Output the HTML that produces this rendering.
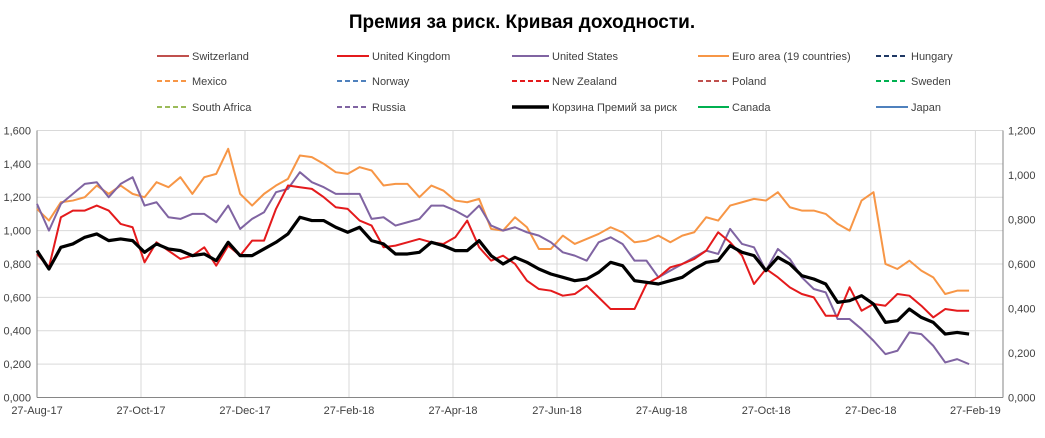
<!DOCTYPE html>
<html><head><meta charset="utf-8">
<style>
body{margin:0;background:#fff;}
svg text{font-family:"Liberation Sans",sans-serif;}
</style></head>
<body>
<svg width="1045" height="433" xmlns="http://www.w3.org/2000/svg">
<text x="522" y="28" text-anchor="middle" font-size="19" font-weight="bold" fill="#000">Премия за риск. Кривая доходности.</text>
<g id="legend"></g>
<g id="grid"></g>
<g id="axes"></g>
<g id="series"></g>
</svg>
<script>
const xLabels=["27-Aug-17","27-Oct-17","27-Dec-17","27-Feb-18","27-Apr-18","27-Jun-18","27-Aug-18","27-Oct-18","27-Dec-18","27-Feb-19"];
const leftTicks=["0,000","0,200","0,400","0,600","0,800","1,000","1,200","1,400","1,600"];
const rightTicks=["0,000","0,200","0,400","0,600","0,800","1,000","1,200"];
const euro=[1.13,1.06,1.17,1.18,1.20,1.27,1.22,1.27,1.22,1.20,1.29,1.26,1.32,1.22,1.32,1.34,1.49,1.22,1.15,1.22,1.27,1.31,1.45,1.44,1.40,1.35,1.34,1.38,1.36,1.27,1.28,1.28,1.20,1.27,1.24,1.18,1.17,1.19,1.01,1.00,1.08,1.02,0.89,0.89,0.97,0.92,0.95,0.98,1.02,0.99,0.93,0.94,0.97,0.93,0.97,0.99,1.08,1.06,1.15,1.17,1.19,1.18,1.23,1.14,1.12,1.12,1.10,1.04,1.00,1.18,1.23,0.80,0.77,0.82,0.76,0.72,0.62,0.64,0.64];
const us=[1.16,1.00,1.16,1.22,1.28,1.29,1.20,1.28,1.32,1.15,1.17,1.08,1.07,1.10,1.10,1.05,1.15,1.01,1.07,1.11,1.23,1.25,1.35,1.29,1.26,1.22,1.22,1.22,1.07,1.08,1.03,1.05,1.07,1.15,1.15,1.12,1.08,1.15,1.03,1.00,1.02,0.99,0.97,0.93,0.87,0.85,0.82,0.93,0.96,0.92,0.82,0.82,0.72,0.76,0.80,0.84,0.88,0.86,1.01,0.92,0.90,0.76,0.89,0.83,0.72,0.65,0.63,0.47,0.47,0.41,0.34,0.26,0.28,0.39,0.38,0.31,0.21,0.23,0.20];
const uk=[0.86,0.78,1.08,1.12,1.12,1.15,1.12,1.04,1.02,0.81,0.93,0.88,0.83,0.85,0.90,0.79,0.91,0.85,0.94,0.94,1.13,1.27,1.26,1.25,1.20,1.14,1.13,1.06,1.03,0.90,0.91,0.93,0.95,0.93,0.92,0.96,1.06,0.90,0.82,0.85,0.80,0.70,0.65,0.64,0.61,0.62,0.67,0.60,0.53,0.53,0.53,0.68,0.72,0.78,0.80,0.83,0.88,0.99,0.93,0.85,0.68,0.77,0.72,0.66,0.62,0.60,0.49,0.49,0.66,0.52,0.56,0.55,0.62,0.61,0.55,0.48,0.53,0.52,0.52];
const basket=[0.88,0.77,0.90,0.92,0.96,0.98,0.94,0.95,0.94,0.87,0.92,0.89,0.88,0.85,0.86,0.82,0.93,0.85,0.85,0.89,0.93,0.98,1.08,1.06,1.06,1.02,0.99,1.02,0.94,0.92,0.86,0.86,0.87,0.93,0.91,0.88,0.88,0.94,0.85,0.80,0.84,0.81,0.77,0.74,0.72,0.70,0.71,0.75,0.81,0.79,0.70,0.69,0.68,0.70,0.72,0.77,0.81,0.82,0.91,0.87,0.85,0.76,0.84,0.80,0.73,0.71,0.68,0.57,0.58,0.61,0.56,0.45,0.46,0.53,0.48,0.45,0.38,0.39,0.38];
const legendNames=[["Switzerland","United Kingdom","United States","Euro area (19 countries)","Hungary"],["Mexico","Norway","New Zealand","Poland","Sweden"],["South Africa","Russia","Корзина Премий за риск","Canada","Japan"]];
const legendColors=[["#c0504d","#e41a1c","#8064a2","#f79646","#1f3864"],["#f79646","#4f81bd","#e41a1c","#c0504d","#00b050"],["#9bbb59","#8064a2","#000","#00b050","#4f81bd"]];
const legendDash=[[0,0,0,0,1],[1,1,1,1,1],[1,1,0,0,0]];
const NS="http://www.w3.org/2000/svg";
const X0=37,X1=1003,Y0=397.5,PX=166.9,STEP=11.95,GX=104;
const yL=v=>Y0-v*PX;
const xI=i=>X0+i*STEP;
function mk(tag,attrs,parent){const e=document.createElementNS(NS,tag);for(const k in attrs)e.setAttribute(k,attrs[k]);parent.appendChild(e);return e;}
const grid=document.getElementById('grid'),axes=document.getElementById('axes'),ser=document.getElementById('series'),leg=document.getElementById('legend');
leftTicks.forEach((t,i)=>{const y=yL(i*0.2);
 if(i>0){const l=mk('line',{x1:X0,x2:X1,y1:y,y2:y,stroke:'#d9d9d9','stroke-width':1},grid);}
 const tx=mk('text',{x:31,y:y+4,'text-anchor':'end','font-size':11,fill:'#404040'},axes);tx.textContent=t;});
rightTicks.forEach((t,i)=>{const y=Y0-i*(8*0.2*PX/6);
 const tx=mk('text',{x:1008,y:y+4,'font-size':11,fill:'#404040'},axes);tx.textContent=t;});
xLabels.forEach((t,i)=>{const x=X0+i*GX+(i>5?(i-5)*0.6:0);
 if(i>0){const l=mk('line',{x1:x,x2:x,y1:yL(1.6),y2:Y0,stroke:'#d9d9d9','stroke-width':1},grid);}
 const tx=mk('text',{x:x,y:414,'text-anchor':'middle','font-size':11,fill:'#404040'},axes);tx.textContent=t;});
let a=mk('line',{x1:X0,x2:X1,y1:Y0,y2:Y0,stroke:'#868686'},axes);
a=mk('line',{x1:X0,x2:X0,y1:yL(1.6),y2:Y0,stroke:'#868686'},axes);
a=mk('line',{x1:X1,x2:X1,y1:yL(1.6),y2:Y0,stroke:'#868686'},axes);
function line(arr,color,w,name){const p=mk('polyline',{points:arr.map((v,i)=>xI(i)+','+yL(v)).join(' '),fill:'none',stroke:color,'stroke-width':w,'stroke-linejoin':'round'},ser);}
line(euro,'#f79646',2,'series-euro-area');
line(us,'#8064a2',2,'series-united-states');
line(uk,'#e41a1c',2,'series-united-kingdom');
line(basket,'#000',3.2,'series-risk-basket');
const colS=[157,337,512,698,876],colT=[192,372,552,732,911],rowY=[56,81,107];
legendNames.forEach((row,r)=>row.forEach((n,c)=>{
 const l=mk('line',{x1:colS[c],x2:colT[c]-3,y1:rowY[r],y2:rowY[r],stroke:legendColors[r][c],'stroke-width':(n.startsWith('Корзина')?3.5:2)},leg);
 if(legendDash[r][c])l.setAttribute('stroke-dasharray','5,3');
 
 const t=mk('text',{x:colT[c],y:rowY[r]+4,'font-size':11,fill:'#404040'},leg);t.textContent=n;
 }));
</script>
</body></html>
